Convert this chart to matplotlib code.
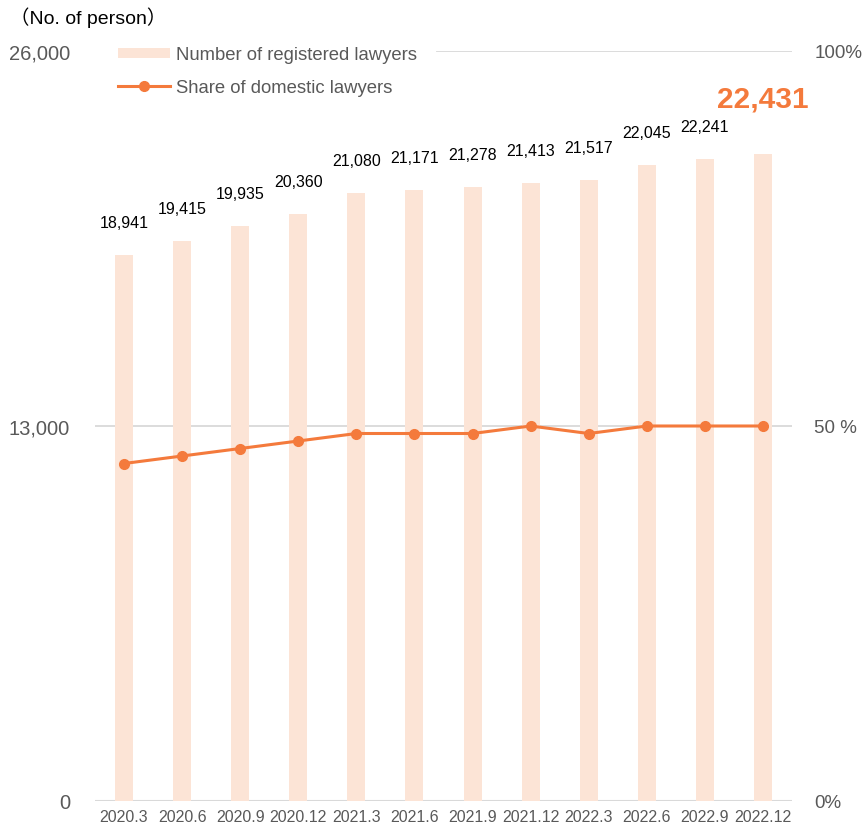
import matplotlib.pyplot as plt
import numpy as np

periods = ["2020.3", "2020.6", "2020.9", "2020.12", "2021.3", "2021.6",
           "2021.9", "2021.12", "2022.3", "2022.6", "2022.9", "2022.12"]
lawyers = [18941, 19415, 19935, 20360, 21080, 21171,
           21278, 21413, 21517, 22045, 22241, 22431]
share = [45, 46, 47, 48, 49, 49, 49, 50, 49, 50, 50, 50]

bar_color = "#FCE4D6"
line_color = "#F47A3C"
grid_color = "#D9D9D9"
tick_color = "#595959"
font = ["Liberation Sans", "Noto Sans CJK JP"]
plt.rcParams["font.family"] = font

fig = plt.figure(figsize=(8.64, 8.29), dpi=100)
ax = fig.add_axes([95 / 864, 27 / 829, 697 / 864, 750 / 829])
ax2 = ax.twinx()

x = np.arange(len(periods))
ax.bar(x, lawyers, width=0.31, color=bar_color, label="Number of registered lawyers", zorder=2)
ax2.plot(x, share, color=line_color, lw=2.2, marker="o", ms=7,
         label="Share of domestic lawyers", zorder=3)

ax.set_xlim(-0.5, len(periods) - 0.5)
ax.set_ylim(0, 26000)
ax2.set_ylim(0, 100)
ax.set_yticks([0, 13000, 26000])
ax.set_yticklabels(["0", "13,000", "26,000"])
ax2.set_yticks([0, 50, 100])
ax2.set_yticklabels(["0%", "50 %", "100%"])

# grid lines (top one only visible right of the legend)
ax.axhline(13000, color=grid_color, lw=1.3, zorder=1)
ax.axhline(0, color=grid_color, lw=1.5, zorder=1)
ax.plot([0.49, 1.0], [26000, 26000], transform=ax.get_yaxis_transform(),
        color=grid_color, lw=1.3, zorder=1)

for a in (ax, ax2):
    for s in a.spines.values():
        s.set_visible(False)
    a.tick_params(length=0, colors=tick_color)
ax.tick_params(axis="y", pad=18, labelsize=14.5)
ax2.tick_params(axis="y", pad=16, labelsize=13.5)
ax.set_xticks(x)
ax.set_xticklabels(periods, fontsize=11.5, color=tick_color)
ax.tick_params(axis="x", pad=6)

for i, v in enumerate(lawyers[:-1]):
    ax.annotate(f"{v:,}", (i, v), xytext=(0, 18), textcoords="offset points",
                ha="center", va="bottom", fontsize=11.5, color="black")
ax.annotate(f"{lawyers[-1]:,}", (x[-1], lawyers[-1]), xytext=(0, 30),
            textcoords="offset points", ha="center", va="bottom",
            fontsize=21.5, fontweight="bold", color=line_color)

fig.text(10 / 864, 1 - 18 / 829, "（No. of person）", fontsize=14,
         color="black", va="center", ha="left")

h1, l1 = ax.get_legend_handles_labels()
h2, l2 = ax2.get_legend_handles_labels()
leg = ax2.legend(h1 + h2, l1 + l2, loc="upper left", bbox_to_anchor=(0.012, 1.026),
                 frameon=False, fontsize=13.3, handlelength=2.8, handleheight=0.45,
                 labelspacing=0.85, borderpad=0.3, handletextpad=0.35)
for t in leg.get_texts():
    t.set_color(tick_color)
leg.set_zorder(5)

fig.savefig("out.png", dpi=100)
